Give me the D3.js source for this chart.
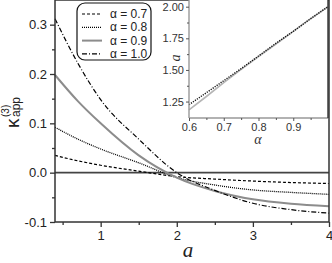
<!DOCTYPE html>
<html><head><meta charset="utf-8">
<script src="https://cdn.jsdelivr.net/npm/d3@7"></script>
<style>body{margin:0;background:#fff}svg{display:block}</style>
</head><body>
<svg id="c" width="332" height="263"></svg>
<script>
const aValues = [0.4, 0.7, 1, 1.5, 2, 2.5, 3, 3.5, 4];
const kappa07 = [0.035, 0.024, 0.015, 0.003, -0.008, -0.013, -0.017, -0.020, -0.022];
const kappa08 = [0.092, 0.068, 0.048, 0.020, -0.010, -0.025, -0.035, -0.040, -0.044];
const kappa09 = [0.198, 0.145, 0.100, 0.035, -0.010, -0.037, -0.054, -0.063, -0.068];
const kappa10 = [0.312, 0.222, 0.148, 0.068, 0.000, -0.036, -0.062, -0.075, -0.082];
const seriesLabels = ["α = 0.7", "α = 0.8", "α = 0.9", "α = 1.0"];
const xTicks = [1, 2, 3, 4];
const yTicks = [-0.1, 0.0, 0.1, 0.2, 0.3];
const insetAlpha = [0.6, 0.65, 0.7, 0.75, 0.8, 0.85, 0.9, 0.95, 1.0];
const insetDotted = [1.225, 1.32, 1.415, 1.51, 1.61, 1.71, 1.805, 1.905, 2.0];
const insetGray = [1.185, 1.29, 1.40, 1.505, 1.605, 1.705, 1.805, 1.905, 2.0];
const insetXTicks = [0.6, 0.7, 0.8, 0.9];
const insetYTicks = [1.25, 1.50, 1.75, 2.00];

const svg = d3.select("#c");
const L = 55, R = 329, T = 0, B = 222;
const x = d3.scaleLinear().domain([0.4, 4]).range([L, R]);
const y = d3.scaleLinear().domain([-0.1, 0.35]).range([B, T]);
const axisColor = "#333";

const styles = [
  {stroke: "#000", width: 1.2, dash: "3,2"},
  {stroke: "#000", width: 1.3, dash: "1,1"},
  {stroke: "#8c8c8c", width: 2, dash: null},
  {stroke: "#000", width: 1.2, dash: "5,2,1,2"}
];
const series = [kappa07, kappa08, kappa09, kappa10];

svg.append("line").attr("x1", L).attr("x2", R).attr("y1", y(0)).attr("y2", y(0))
  .attr("stroke", "#444").attr("stroke-width", 1.6);

const line = d3.line().x((d, i) => x(aValues[i])).y(d => y(d)).curve(d3.curveMonotoneX);
series.forEach((s, k) => {
  svg.append("path").attr("d", line(s)).attr("fill", "none")
    .attr("stroke", styles[k].stroke).attr("stroke-width", styles[k].width)
    .attr("stroke-dasharray", styles[k].dash);
});

svg.append("rect").attr("x", L).attr("y", T).attr("width", R - L).attr("height", B - T)
  .attr("fill", "none").attr("stroke", axisColor).attr("stroke-width", 1.5);

const xAxis = svg.append("g").attr("transform", `translate(0,${B})`)
  .call(d3.axisBottom(x).tickValues(xTicks).tickFormat(d3.format("d")).tickSize(5).tickPadding(4));
const xMinor = svg.append("g").attr("transform", `translate(0,${B})`)
  .call(d3.axisBottom(x).tickValues([0.5, 1.5, 2.5, 3.5]).tickFormat("").tickSize(3));
const yAxis = svg.append("g").attr("transform", `translate(${L},0)`)
  .call(d3.axisLeft(y).tickValues(yTicks).tickFormat(d3.format(".1f")).tickSize(5).tickPadding(3));
const yMinor = svg.append("g").attr("transform", `translate(${L},0)`)
  .call(d3.axisLeft(y).tickValues([-0.05, 0.05, 0.15, 0.25]).tickFormat("").tickSize(3));
[xAxis, xMinor, yAxis, yMinor].forEach(g => {
  g.select(".domain").remove();
  g.selectAll("line").attr("stroke", axisColor).attr("stroke-width", 1.3);
  g.selectAll("text").attr("font-family", "Liberation Sans, Arial, sans-serif")
    .attr("font-size", 13).attr("fill", "#222");
});
yAxis.selectAll("text").text(d => d === 0 ? "0.0" : d3.format(".1f")(d).replace("−", "-"));

svg.append("text").attr("x", 188).attr("y", 257).attr("text-anchor", "middle")
  .attr("font-family", "Liberation Serif, Times New Roman, serif").attr("font-style", "italic")
  .attr("font-size", 21).attr("fill", "#222").text("a");
const yl = svg.append("g").attr("transform", "translate(19,128) rotate(-90)")
  .attr("font-family", "Liberation Sans, Arial, sans-serif").attr("fill", "#222");
yl.append("text").attr("x", 0).attr("y", 0).attr("font-size", 19).text("κ");
yl.append("text").attr("x", 11).attr("y", -10).attr("font-size", 10).text("(3)");
yl.append("text").attr("x", 11).attr("y", 1).attr("font-size", 12).text("app");

const lg = svg.append("g");
lg.append("rect").attr("x", 77).attr("y", 3).attr("width", 74).attr("height", 57).attr("rx", 8)
  .attr("fill", "#fff").attr("stroke", "#111").attr("stroke-width", 1.2);
seriesLabels.forEach((lab, k) => {
  const yy = 14 + k * 13.3;
  lg.append("line").attr("x1", 82).attr("x2", 102).attr("y1", yy).attr("y2", yy)
    .attr("stroke", styles[k].stroke).attr("stroke-width", styles[k].width)
    .attr("stroke-dasharray", styles[k].dash);
  lg.append("text").attr("x", 110).attr("y", yy + 4).attr("font-size", 12)
    .attr("font-family", "Liberation Sans, Arial, sans-serif").attr("fill", "#222").text(lab);
});

const iL = 189, iR = 328, iT = 0, iB = 118;
const ix = d3.scaleLinear().domain([0.6, 1.0]).range([iL, iR]);
const iy = d3.scaleLinear().domain([1.12, 2.053]).range([iB, iT]);
svg.append("rect").attr("x", iL).attr("y", iT).attr("width", iR - iL).attr("height", iB - iT)
  .attr("fill", "#fff");
const iline = (arr) => d3.line().x((d, i) => ix(insetAlpha[i])).y(d => iy(d))(arr);
svg.append("path").attr("d", iline(insetGray)).attr("fill", "none")
  .attr("stroke", "#b5b5b5").attr("stroke-width", 1.6);
svg.append("path").attr("d", iline(insetDotted)).attr("fill", "none")
  .attr("stroke", "#111").attr("stroke-width", 1.4).attr("stroke-dasharray", "1.2,1.2");
svg.append("line").attr("x1", iL).attr("x2", iL).attr("y1", iT).attr("y2", iB)
  .attr("stroke", "#999").attr("stroke-width", 1.4);
svg.append("line").attr("x1", iL).attr("x2", iR).attr("y1", iB).attr("y2", iB)
  .attr("stroke", "#999").attr("stroke-width", 1.4);
svg.append("line").attr("x1", iR).attr("x2", iR).attr("y1", iT).attr("y2", iB)
  .attr("stroke", "#333").attr("stroke-width", 1.4);
const ixAxis = svg.append("g").attr("transform", `translate(0,${iB})`)
  .call(d3.axisBottom(ix).tickValues(insetXTicks).tickFormat(d3.format(".1f")).tickSize(3).tickPadding(2));
const ixMinor = svg.append("g").attr("transform", `translate(0,${iB})`)
  .call(d3.axisBottom(ix).tickValues([0.65, 0.75, 0.85, 0.95]).tickFormat("").tickSize(2));
const iyAxis = svg.append("g").attr("transform", `translate(${iL},0)`)
  .call(d3.axisLeft(iy).tickValues(insetYTicks).tickFormat(d3.format(".2f")).tickSize(3).tickPadding(2));
const iyMinor = svg.append("g").attr("transform", `translate(${iL},0)`)
  .call(d3.axisLeft(iy).tickValues([1.375, 1.625, 1.875]).tickFormat("").tickSize(2));
[ixAxis, ixMinor, iyAxis, iyMinor].forEach(g => {
  g.select(".domain").remove();
  g.selectAll("line").attr("stroke", "#555").attr("stroke-width", 1);
  g.selectAll("text").attr("font-family", "Liberation Sans, Arial, sans-serif")
    .attr("font-size", 11).attr("fill", "#333");
});
svg.append("text").attr("x", 258).attr("y", 144).attr("text-anchor", "middle")
  .attr("font-family", "Liberation Serif, Times New Roman, serif").attr("font-style", "italic")
  .attr("font-size", 14).attr("fill", "#333").text("α");
svg.append("text").attr("transform", "translate(180,58) rotate(-90)").attr("text-anchor", "middle")
  .attr("font-family", "Liberation Serif, Times New Roman, serif").attr("font-style", "italic")
  .attr("font-size", 14).attr("fill", "#333").text("a");
</script>
</body></html>
